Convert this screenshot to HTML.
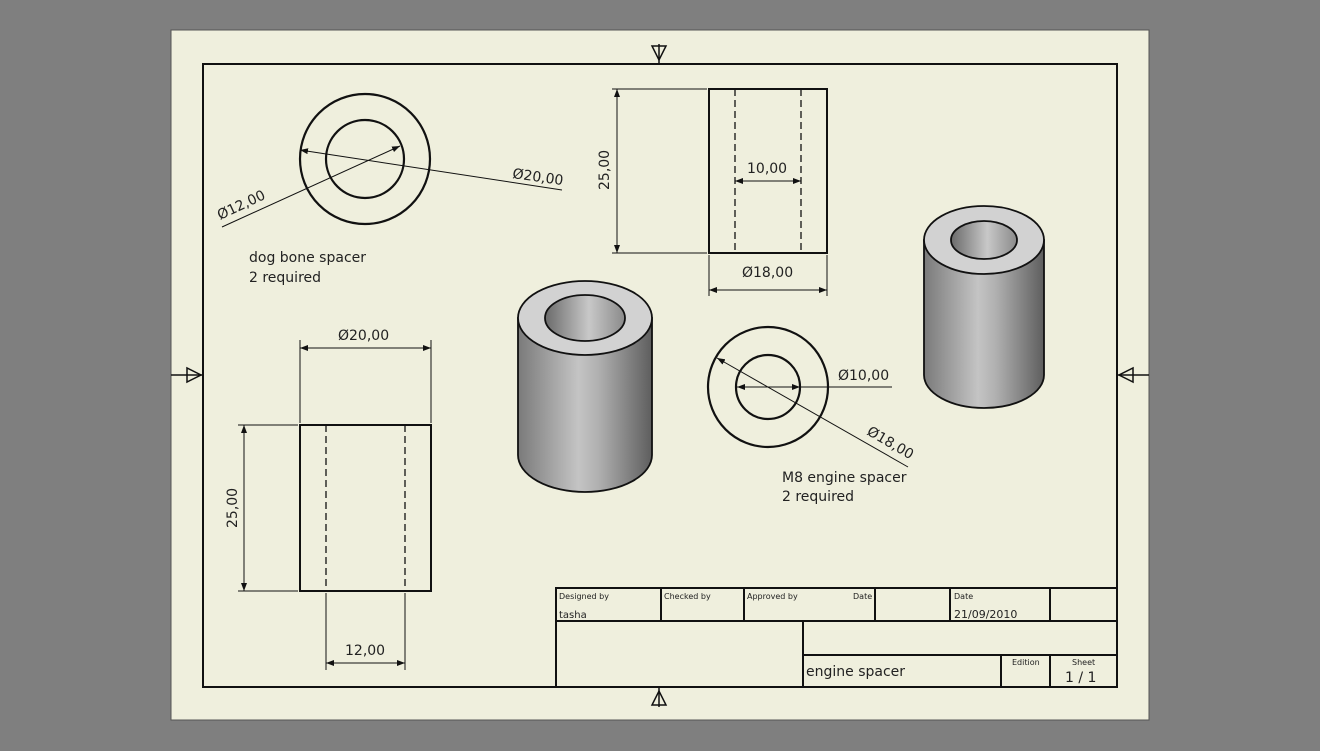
<!DOCTYPE html>
<html><head><meta charset="utf-8"><style>
html,body{margin:0;padding:0;background:#7f7f7f;}
svg{display:block;}
text{font-family:"DejaVu Sans","Liberation Sans",sans-serif;fill:#222;}
</style></head><body>
<svg width="1320" height="751" viewBox="0 0 1320 751" xmlns="http://www.w3.org/2000/svg">
<defs>
<linearGradient id="cyl" x1="0" x2="1" y1="0" y2="0">
<stop offset="0" stop-color="#7a7a7a"/><stop offset="0.45" stop-color="#c4c4c4"/><stop offset="0.6" stop-color="#b0b0b0"/><stop offset="1" stop-color="#5e5e5e"/>
</linearGradient>
<linearGradient id="hole" x1="0" x2="1" y1="0" y2="0">
<stop offset="0" stop-color="#6a6a6a"/><stop offset="0.55" stop-color="#c8c8c8"/><stop offset="1" stop-color="#8a8a8a"/>
</linearGradient>
<marker id="ar" markerWidth="8" markerHeight="6" refX="8" refY="3" orient="auto-start-reverse" markerUnits="userSpaceOnUse"><path d="M0,0 L8,3 L0,6 z" fill="#111"/></marker>
</defs>
<rect x="0" y="0" width="1320" height="751" fill="#7f7f7f"/>
<rect x="171" y="30" width="978" height="690" fill="#efefdd" stroke="#555" stroke-width="1"/>
<rect x="203" y="64" width="914" height="623" fill="none" stroke="#111" stroke-width="2"/>
<!-- centering marks -->
<g stroke="#111" stroke-width="1.5" fill="none">
<line x1="659" y1="44" x2="659" y2="64"/><path d="M652,46 L666,46 L659,60 z"/>
<line x1="659" y1="687" x2="659" y2="707"/><path d="M652,705 L666,705 L659,691 z"/>
<line x1="171" y1="375" x2="203" y2="375"/><path d="M187,368 L187,382 L201,375 z"/>
<line x1="1117" y1="375" x2="1149" y2="375"/><path d="M1133,368 L1133,382 L1119,375 z"/>
</g>
<!-- title block -->
<g stroke="#111" stroke-width="2" fill="none">
<rect x="556" y="588" width="561" height="99"/>
<line x1="556" y1="621" x2="1117" y2="621"/>
<line x1="661" y1="588" x2="661" y2="621"/><line x1="744" y1="588" x2="744" y2="621"/>
<line x1="875" y1="588" x2="875" y2="621"/><line x1="950" y1="588" x2="950" y2="621"/>
<line x1="1050" y1="588" x2="1050" y2="621"/>
<line x1="803" y1="621" x2="803" y2="687"/><line x1="803" y1="655" x2="1117" y2="655"/>
<line x1="1001" y1="655" x2="1001" y2="687"/><line x1="1050" y1="655" x2="1050" y2="687"/>
</g>
<g font-size="8">
<text x="559" y="599">Designed by</text><text x="664" y="599">Checked by</text><text x="747" y="599">Approved by</text><text x="853" y="599">Date</text><text x="954" y="599">Date</text>
<text x="1012" y="665">Edition</text><text x="1072" y="665">Sheet</text>
</g>
<text x="559" y="618" font-size="10">tasha</text>
<text x="954" y="618" font-size="11">21/09/2010</text>
<text x="806" y="676" font-size="14">engine spacer</text>
<text x="1065" y="682" font-size="14">1 / 1</text>
<!-- top-left circle view -->
<g stroke="#111" fill="none">
<circle cx="365" cy="159" r="65" stroke-width="2.2"/>
<circle cx="365" cy="159" r="39" stroke-width="2.2"/>
<line x1="562" y1="190" x2="300" y2="150" stroke-width="1" marker-end="url(#ar)"/>
<line x1="222" y1="227" x2="400" y2="146" stroke-width="1" marker-end="url(#ar)"/>
</g>
<text transform="translate(512,178) rotate(8)" font-size="14">Ø20,00</text>
<text transform="translate(220,220) rotate(-25)" font-size="14">Ø12,00</text>
<text x="249" y="262" font-size="14">dog bone spacer</text>
<text x="249" y="282" font-size="14">2 required</text>
<!-- top side view -->
<g stroke="#111" fill="none">
<rect x="709" y="89" width="118" height="164" stroke-width="2"/>
<line x1="735" y1="89" x2="735" y2="253" stroke-width="1.3" stroke-dasharray="7,4"/>
<line x1="801" y1="89" x2="801" y2="253" stroke-width="1.3" stroke-dasharray="7,4"/>
<line x1="612" y1="89" x2="707" y2="89" stroke-width="1"/><line x1="612" y1="253" x2="707" y2="253" stroke-width="1"/>
<line x1="617" y1="89" x2="617" y2="253" stroke-width="1" marker-start="url(#ar)" marker-end="url(#ar)"/>
<line x1="735" y1="181" x2="801" y2="181" stroke-width="1" marker-start="url(#ar)" marker-end="url(#ar)"/>
<line x1="709" y1="255" x2="709" y2="296" stroke-width="1"/><line x1="827" y1="255" x2="827" y2="296" stroke-width="1"/>
<line x1="709" y1="290" x2="827" y2="290" stroke-width="1" marker-start="url(#ar)" marker-end="url(#ar)"/>
</g>
<text transform="translate(609,190) rotate(-90)" font-size="14">25,00</text>
<text x="747" y="173" font-size="14">10,00</text>
<text x="742" y="277" font-size="14">Ø18,00</text>
<!-- lower-left side view -->
<g stroke="#111" fill="none">
<rect x="300" y="425" width="131" height="166" stroke-width="2"/>
<line x1="326" y1="425" x2="326" y2="591" stroke-width="1.3" stroke-dasharray="7,4"/>
<line x1="405" y1="425" x2="405" y2="591" stroke-width="1.3" stroke-dasharray="7,4"/>
<line x1="300" y1="340" x2="300" y2="423" stroke-width="1"/><line x1="431" y1="340" x2="431" y2="423" stroke-width="1"/>
<line x1="300" y1="348" x2="431" y2="348" stroke-width="1" marker-start="url(#ar)" marker-end="url(#ar)"/>
<line x1="238" y1="425" x2="298" y2="425" stroke-width="1"/><line x1="238" y1="591" x2="298" y2="591" stroke-width="1"/>
<line x1="244" y1="425" x2="244" y2="591" stroke-width="1" marker-start="url(#ar)" marker-end="url(#ar)"/>
<line x1="326" y1="593" x2="326" y2="670" stroke-width="1"/><line x1="405" y1="593" x2="405" y2="670" stroke-width="1"/>
<line x1="326" y1="663" x2="405" y2="663" stroke-width="1" marker-start="url(#ar)" marker-end="url(#ar)"/>
</g>
<text x="338" y="340" font-size="14">Ø20,00</text>
<text transform="translate(237,528) rotate(-90)" font-size="14">25,00</text>
<text x="345" y="655" font-size="14">12,00</text>
<!-- middle cylinder -->
<g stroke="#111" stroke-width="1.8">
<path d="M518,318 L518,455 A67,37 0 0 0 652,455 L652,318 z" fill="url(#cyl)"/>
<ellipse cx="585" cy="318" rx="67" ry="37" fill="#d2d2d2"/>
<ellipse cx="585" cy="318" rx="40" ry="23" fill="url(#hole)"/>
</g>
<!-- right cylinder -->
<g stroke="#111" stroke-width="1.8">
<path d="M924,240 L924,375 A60,33 0 0 0 1044,375 L1044,240 z" fill="url(#cyl)"/>
<ellipse cx="984" cy="240" rx="60" ry="34" fill="#d2d2d2"/>
<ellipse cx="984" cy="240" rx="33" ry="19" fill="url(#hole)"/>
</g>
<!-- M8 circle view -->
<g stroke="#111" fill="none">
<circle cx="768" cy="387" r="60" stroke-width="2.2"/>
<circle cx="768" cy="387" r="32" stroke-width="2.2"/>
<line x1="892" y1="387" x2="737" y2="387" stroke-width="1" marker-end="url(#ar)"/>
<line x1="800" y1="387" x2="737" y2="387" stroke-width="1" marker-start="url(#ar)"/>
<line x1="908" y1="467" x2="717" y2="358" stroke-width="1" marker-end="url(#ar)"/>
</g>
<text x="838" y="380" font-size="14">Ø10,00</text>
<text transform="translate(866,434) rotate(30)" font-size="14">Ø18,00</text>
<text x="782" y="482" font-size="14">M8 engine spacer</text>
<text x="782" y="501" font-size="14">2 required</text>
</svg>
</body></html>
